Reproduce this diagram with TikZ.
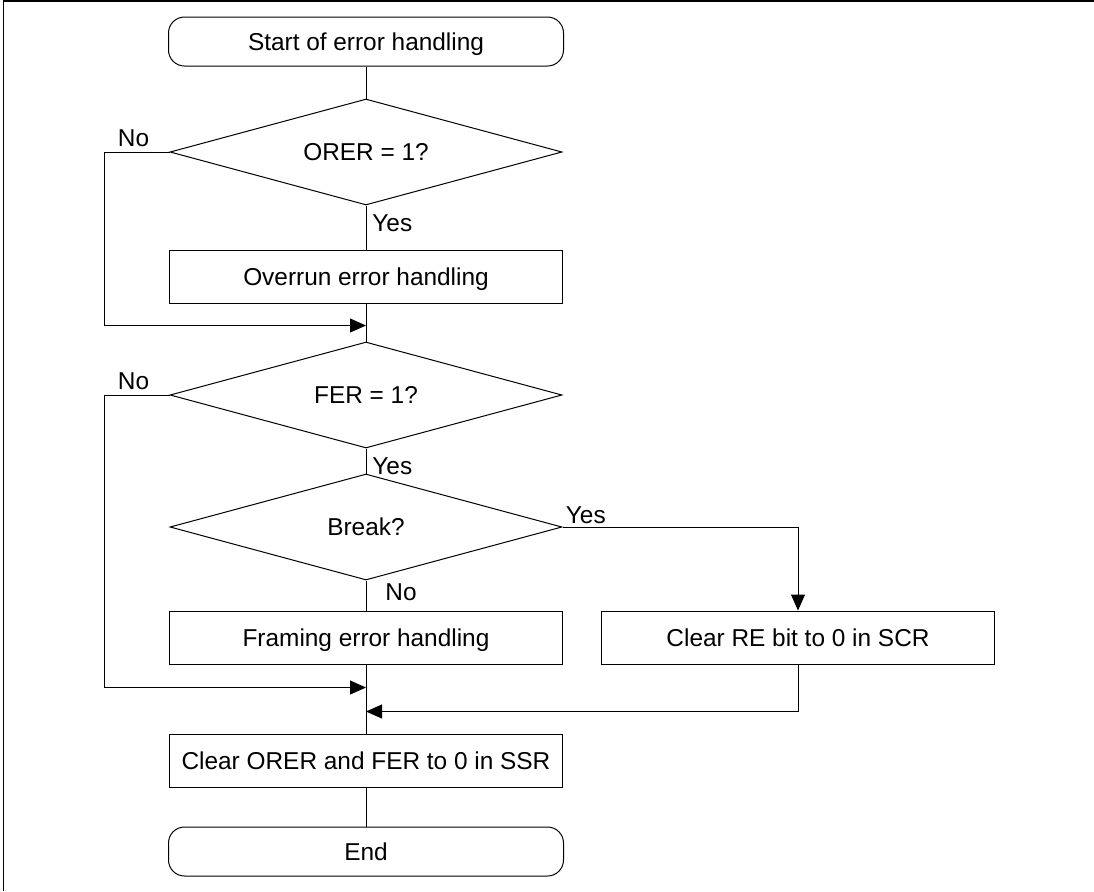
\documentclass[tikz,border=0pt]{standalone}
\usepackage{fontspec}
\setmainfont{Liberation Sans}
\usepackage{xcolor}
\usepackage{tikz}
\usetikzlibrary{arrows.meta,positioning,shapes.geometric}
\definecolor{ink}{HTML}{000000}
\tikzset{
  term/.style={
    draw=ink, rounded corners=8pt, line width=0.5pt,
    minimum width=197.5pt, minimum height=24.5pt, inner sep=2pt,
    text height=10pt, text depth=1.3pt,
    font=\fontsize{12.2}{14}\selectfont\color{ink}},
  proc/.style={
    draw=ink, line width=0.5pt, minimum width=196.5pt, minimum height=26.5pt,
    inner sep=2pt, text height=10pt, text depth=1.3pt,
    font=\fontsize{12.2}{14}\selectfont\color{ink}},
  decide/.style={
    diamond, draw=ink, aspect=3.7, line width=0.5pt,
    minimum width=196pt, minimum height=53pt, inner sep=1pt,
    text height=10pt, text depth=1.3pt,
    font=\fontsize{12.2}{14}\selectfont\color{ink}},
  flow/.style={-{Triangle[length=8pt,width=7pt]}, line width=0.5pt, color=ink},
  link/.style={line width=0.5pt, color=ink},
  side/.style={inner sep=1pt, text height=10pt, text depth=1.3pt,
    font=\fontsize{12.2}{14}\selectfont\color{ink}},
}

\begin{document}
\begin{tikzpicture}[node distance=16pt]
  \useasboundingbox (0,0) rectangle (547pt,-445.5pt);
  \draw[line width=0.7pt, color=ink] (1.7pt,-445.5pt) -- (1.7pt,-0.4pt) -- (547pt,-0.4pt);

  \node[term] (start) at (183pt,-20.75pt) {Start of error handling};
  \node[decide, below=of start] (orer) {ORER = 1?};
  \node[proc, below=22pt of orer] (overrun) {Overrun error handling};
  \node[decide, below=19pt of overrun] (fer) {FER = 1?};
  \node[decide, below=12.5pt of fer] (brk) {Break?};
  \node[proc, below=15pt of brk] (framing) {Framing error handling};
  \node[proc, right=19pt of framing] (clearre) {Clear RE bit to 0 in SCR};
  \node[proc, below=34.5pt of framing] (clearssr) {Clear ORER and FER to 0 in SSR};
  \node[term, below=19.5pt of clearssr] (finish) {End};

  \coordinate[below=11pt of overrun.south] (join1);
  \coordinate[below=11.5pt of framing.south] (join2);
  \coordinate[below=23.5pt of framing.south] (join3);

  \node[side, above left=0.2pt and 9pt of orer.west] (no1) {No};
  \node[side, below right=2pt and 2pt of orer.south] (yes1) {Yes};
  \node[side, above left=0.2pt and 9pt of fer.west] (no2) {No};
  \node[side, below right=2pt and 2pt of fer.south] (yes2) {Yes};
  \node[side, above right=-0.8pt and 0.5pt of brk.east] (yes3) {Yes};
  \node[side, below right=-1.1pt and 8.5pt of brk.south] (no3) {No};

  \draw[link] (start) -- (orer);
  \draw[link] (orer) -- (overrun);
  \draw[link] (overrun) -- (fer);
  \draw[link] (fer) -- (brk);
  \draw[link] (brk) -- (framing);
  \draw[link] (framing) -- (clearssr);
  \draw[link] (clearssr) -- (finish);

  \draw[flow] (orer.west) -- ++(-32.5pt,0) |- (join1);
  \draw[flow] (fer.west) -- ++(-32.5pt,0) |- (join2);
  \draw[flow] (brk.east) -| (clearre.north);
  \draw[flow] (clearre.south) |- (join3);
\end{tikzpicture}
\end{document}
